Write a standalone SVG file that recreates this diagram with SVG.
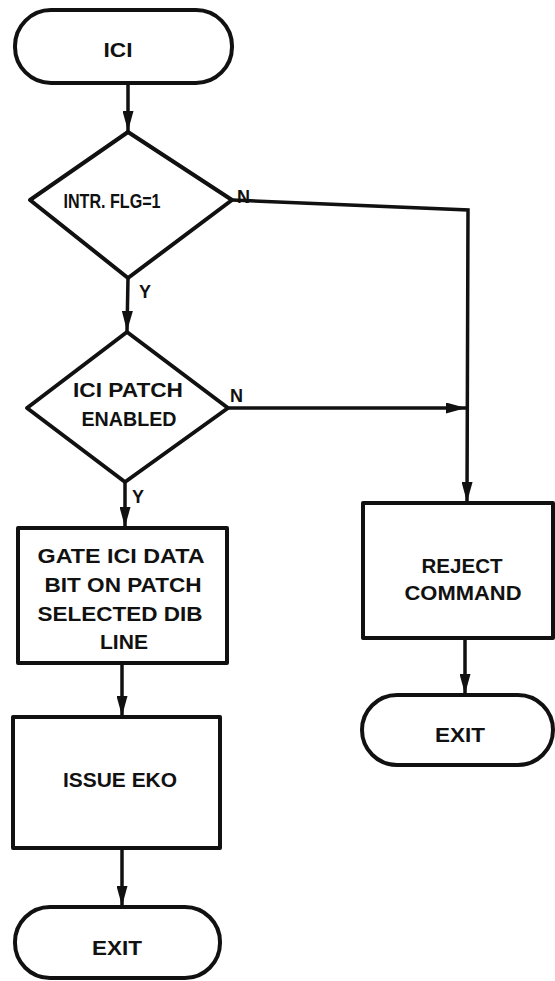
<svg xmlns="http://www.w3.org/2000/svg" width="555" height="981" viewBox="0 0 555 981">
<defs>
<marker id="ah" markerUnits="userSpaceOnUse" markerWidth="20" markerHeight="11" refX="20" refY="5.5" orient="auto">
<path d="M0,0 L20,5.5 L0,11 z" fill="#111"/>
</marker>
<style>
.s{fill:#fff;stroke:#111;stroke-width:4;stroke-linejoin:round}
.c{fill:none;stroke:#111;stroke-width:3.5}
.t{font-family:"Liberation Sans",Arial,sans-serif;font-weight:bold;fill:#111;font-size:21px;text-anchor:middle}
.l{font-family:"Liberation Sans",Arial,sans-serif;font-weight:bold;fill:#111;font-size:18px}
</style>
</defs>
<rect width="555" height="981" fill="#fff"/>
<g id="connectors">
<path class="c" d="M128,83 L128,131" marker-end="url(#ah)"/>
<path class="c" d="M128,278 L127,331" marker-end="url(#ah)"/>
<path class="c" d="M125,482 L125,527" marker-end="url(#ah)"/>
<path class="c" d="M122,663 L122,716" marker-end="url(#ah)"/>
<path class="c" d="M122,848 L122,906" marker-end="url(#ah)"/>
<path class="c" d="M232,200 L468,210 L467,502" marker-end="url(#ah)"/>
<path class="c" d="M228,408 L466,408" marker-end="url(#ah)"/>
<path class="c" d="M465,638 L465,694" marker-end="url(#ah)"/>
<text class="l" x="237" y="203">N</text>
<text class="l" x="230" y="402">N</text>
<text class="l" x="139" y="298">Y</text>
<text class="l" x="132" y="503">Y</text>
</g>
<g id="start">
<rect class="s" x="15" y="10" width="217" height="73" rx="36" ry="36"/>
<text class="t" x="118" y="57" font-size="19" textLength="29" lengthAdjust="spacingAndGlyphs">ICI</text>
</g>
<g id="d1">
<polygon class="s" points="128,132 232,200 128,278 30,200"/>
<text class="t" x="112" y="208" font-size="17" textLength="97" lengthAdjust="spacingAndGlyphs">INTR. FLG=1</text>
</g>
<g id="d2">
<polygon class="s" points="127,332 228,408 125,482 27,408"/>
<text class="t" x="128" y="397" font-size="19" textLength="110" lengthAdjust="spacingAndGlyphs">ICI PATCH</text>
<text class="t" x="129" y="426" font-size="19" textLength="95" lengthAdjust="spacingAndGlyphs">ENABLED</text>
</g>
<g id="gate">
<rect class="s" x="18" y="528" width="209" height="135"/>
<text class="t" x="121" y="563" textLength="167" lengthAdjust="spacingAndGlyphs">GATE ICI DATA</text>
<text class="t" x="123" y="592" textLength="157" lengthAdjust="spacingAndGlyphs">BIT ON PATCH</text>
<text class="t" x="120" y="621" textLength="165" lengthAdjust="spacingAndGlyphs">SELECTED DIB</text>
<text class="t" x="124" y="649" textLength="48" lengthAdjust="spacingAndGlyphs">LINE</text>
</g>
<g id="issue">
<rect class="s" x="13" y="717" width="207" height="131"/>
<text class="t" x="120" y="787" textLength="114" lengthAdjust="spacingAndGlyphs">ISSUE EKO</text>
</g>
<g id="exit1">
<rect class="s" x="15" y="907" width="205" height="71" rx="35" ry="35"/>
<text class="t" x="117" y="955" textLength="50" lengthAdjust="spacingAndGlyphs">EXIT</text>
</g>
<g id="reject">
<rect class="s" x="363" y="503" width="190" height="135"/>
<text class="t" x="462" y="573" textLength="81" lengthAdjust="spacingAndGlyphs">REJECT</text>
<text class="t" x="463" y="600" textLength="117" lengthAdjust="spacingAndGlyphs">COMMAND</text>
</g>
<g id="exit2">
<rect class="s" x="362" y="695" width="191" height="70" rx="35" ry="35"/>
<text class="t" x="460" y="742" textLength="50" lengthAdjust="spacingAndGlyphs">EXIT</text>
</g>
</svg>
